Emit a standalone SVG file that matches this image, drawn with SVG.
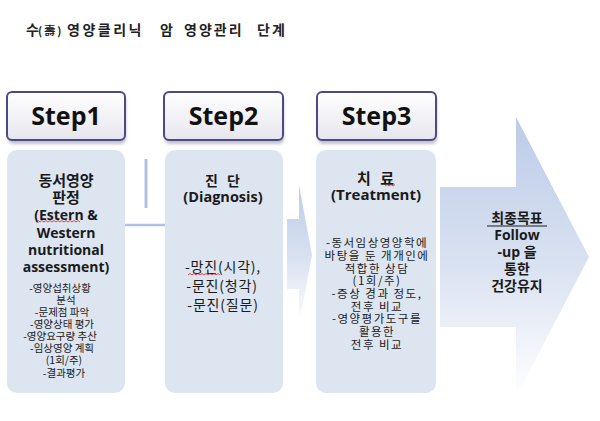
<svg xmlns="http://www.w3.org/2000/svg" width="600" height="421" viewBox="0 0 600 421">
<defs>
<style>
.t{font-family:"Open Sans","Noto Sans CJK KR",sans-serif;fill:#1a1a1a;text-anchor:middle}
.kr{font-family:"Noto Sans CJK KR","Open Sans",sans-serif;fill:#1a1a1a;text-anchor:middle}
.b{font-weight:700}
.step{font-family:"Open Sans","Liberation Sans",sans-serif;font-weight:700;font-size:25px;fill:#111;text-anchor:middle}
.btn{fill:url(#gBtn);stroke:#4b4a86;stroke-width:2}
.shadow{fill:#9a9aa8;opacity:0.6;filter:url(#blur)}
.card{fill:#dde5f0}
.sq{fill:none;stroke:#d02020;stroke-width:0.8}
</style>
<linearGradient id="gBtn" x1="0" y1="0" x2="0" y2="1">
<stop offset="0" stop-color="#ffffff"/>
<stop offset="1" stop-color="#e6e6ee"/>
</linearGradient>
<linearGradient id="gArr" x1="0" y1="0" x2="0" y2="1">
<stop offset="0" stop-color="#bccbe8"/>
<stop offset="0.55" stop-color="#dbe3f2"/>
<stop offset="1" stop-color="#ffffff"/>
</linearGradient>
<filter id="blur" x="-10%" y="-20%" width="120%" height="140%">
<feGaussianBlur stdDeviation="1.5"/>
</filter>
</defs>
<rect width="600" height="421" fill="#ffffff"/>

<text id="title" y="35" font-family="'Noto Sans CJK KR',sans-serif" font-weight="700" font-size="14" fill="#222"><tspan x="26">수</tspan><tspan x="38" font-size="11" letter-spacing="2">(壽)</tspan><tspan x="67" letter-spacing="2.5">영양클리닉</tspan><tspan x="160">암</tspan><tspan x="184" letter-spacing="2">영양관리</tspan><tspan x="257" letter-spacing="2">단계</tspan></text>

<g id="connectors">
<rect x="144.5" y="159" width="3" height="49" fill="#b3c2e4"/>
<line x1="125" y1="225" x2="165" y2="225" stroke="#b3c2e4" stroke-width="2.5"/>
<polygon points="287,219 299,219 299,185 312,255 299,325 299,289 287,289" fill="url(#gArr)"/>
</g>

<g id="step1">
<rect class="shadow" x="8" y="96" width="118" height="48" rx="5"/>
<rect class="btn" x="7" y="92" width="118" height="48" rx="5"/>
<text class="step" x="66" y="125">Step1</text>
</g>
<g id="step2">
<rect class="shadow" x="165" y="96" width="119" height="48" rx="5"/>
<rect class="btn" x="164" y="92" width="119" height="48" rx="5"/>
<text class="step" x="223.5" y="125">Step2</text>
</g>
<g id="step3">
<rect class="shadow" x="318" y="96" width="119" height="48" rx="5"/>
<rect class="btn" x="317" y="92" width="119" height="48" rx="5"/>
<text class="step" x="376.5" y="125">Step3</text>
</g>

<g id="box1">
<rect class="card" x="7" y="150" width="118" height="243" rx="10"/>
<text class="t b" font-size="15"><tspan x="66" y="186">동서영양</tspan><tspan x="66" y="203">판정</tspan></text>
<text class="t b" font-size="14"><tspan x="66" y="220">(Estern &amp;</tspan><tspan x="66" y="237.5">Western</tspan><tspan x="66" y="255">nutritional</tspan><tspan x="66" y="272">assessment)</tspan></text>
<path class="sq" d="M36,222 l2,-1.5 l2,1.5 l2,-1.5 l2,1.5 l2,-1.5 l2,1.5 l2,-1.5 l2,1.5 l2,-1.5 l2,1.5 l2,-1.5 l2,1.5 l2,-1.5 l2,1.5 l2,-1.5 l2,1.5 l2,-1.5 l2,1.5 l2,-1.5 l2,1.5 l2,-1.5 l2,1.5"/>
<text class="kr" font-size="10.5" fill="#333"><tspan x="60" y="292">-영양섭취상황</tspan><tspan x="66" y="304">분석</tspan><tspan x="62" y="316">-문제점 파악</tspan><tspan x="62" y="328">-영양상태 평가</tspan><tspan x="60" y="340">-영양요구량 추산</tspan><tspan x="62" y="352">-임상영양 계획</tspan><tspan x="64" y="364">(1회/주)</tspan><tspan x="64" y="377">-결과평가</tspan></text>
</g>

<g id="box2">
<rect class="card" x="165" y="150" width="118" height="243" rx="10"/>
<text class="kr b" font-size="14" x="224" y="186" letter-spacing="3">진 단</text>
<text class="t b" font-size="14.5" x="223" y="202">(Diagnosis)</text>
<text class="kr" font-size="14" letter-spacing="0.8"><tspan x="223" y="272">-망진(시각),</tspan><tspan x="222" y="291">-문진(청각)</tspan><tspan x="223" y="310">-문진(질문)</tspan></text>
<path class="sq" d="M188,275 l2,-1.5 l2,1.5 l2,-1.5 l2,1.5 l2,-1.5 l2,1.5 l2,-1.5 l2,1.5 l2,-1.5 l2,1.5 l2,-1.5 l2,1.5 l2,-1.5 l2,1.5 l2,-1.5 l2,1.5"/>
</g>

<g id="box3">
<rect class="card" x="316" y="150" width="120" height="243" rx="10"/>
<text class="kr b" font-size="15" x="377" y="184" letter-spacing="3">치 료</text>
<path class="sq" d="M385,186 l2,-1.5 l2,1.5 l2,-1.5 l2,1.5 l2,-1.5"/>
<text class="t b" font-size="15" x="376" y="200">(Treatment)</text>
<text class="kr" font-size="11.5" fill="#333" letter-spacing="1.5"><tspan x="377" y="247">-동서임상영양학에</tspan><tspan x="377" y="260">바탕을 둔 개개인에</tspan><tspan x="377" y="273">적합한 상담</tspan><tspan x="377" y="285">(1회/주)</tspan><tspan x="377" y="298">-증상 경과 정도,</tspan><tspan x="377" y="311">전후 비교</tspan><tspan x="377" y="323">-영양평가도구를</tspan><tspan x="377" y="336">활용한</tspan><tspan x="377" y="349">전후 비교</tspan></text>
</g>

<g id="goal">
<polygon points="440,187 516,187 516,117 589,257 516,397 516,327 440,327" fill="url(#gArr)"/>
<text class="t b" font-size="14"><tspan x="517" y="223">최종목표</tspan><tspan x="517" y="240">Follow</tspan><tspan x="517" y="257">-up 을</tspan><tspan x="517" y="274">통한</tspan><tspan x="517" y="291">건강유지</tspan></text>
<line x1="487" y1="226" x2="547" y2="226" stroke="#1a1a1a" stroke-width="1"/>
</g>
</svg>
